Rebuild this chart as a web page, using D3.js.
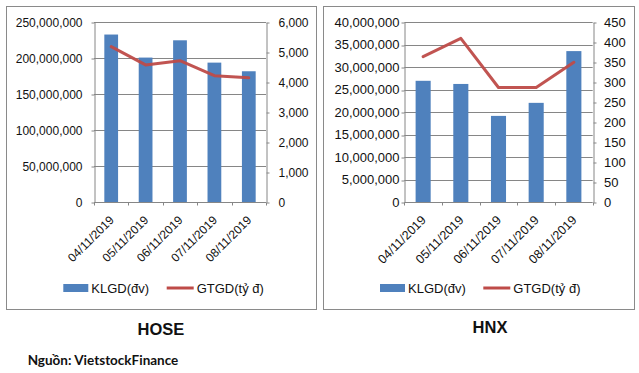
<!DOCTYPE html>
<html>
<head>
<meta charset="utf-8">
<script src="https://cdn.jsdelivr.net/npm/d3@7"></script>
<style>
  html, body { margin: 0; padding: 0; background: #fff; }
  svg { display: block; }
</style>
</head>
<body>
<svg id="chart" width="639" height="373"></svg>
<script>
// ---- data ----
const dates = ["04/11/2019", "05/11/2019", "06/11/2019", "07/11/2019", "08/11/2019"];
const hoseVolume = [233000000, 201000000, 225000000, 194000000, 182000000];
const hoseValue = [5190, 4580, 4720, 4220, 4150];
const hnxVolume = [27000000, 26300000, 19200000, 22100000, 33600000];
const hnxValue = [364, 410, 287, 287, 350];
const hoseLeftTicks = [0, 50000000, 100000000, 150000000, 200000000, 250000000];
const hoseRightTicks = [0, 1000, 2000, 3000, 4000, 5000, 6000];
const hnxLeftTicks = [0, 5000000, 10000000, 15000000, 20000000, 25000000, 30000000, 35000000, 40000000];
const hnxRightTicks = [0, 50, 100, 150, 200, 250, 300, 350, 400, 450];
const legendLabels = ["KLGD(đv)", "GTGD(tỷ đ)"];
const titles = ["HOSE", "HNX"];
const sourceText = "Nguồn: VietstockFinance";

const BAR = "#4F81BD", LINE = "#BE4B48", AXIS = "#868686", BORDER = "#8a8a8a";
const FONT = "'Liberation Sans', Arial, sans-serif";

const svg = d3.select("#chart");

function panel(cfg) {
  const g = svg.append("g");
  g.append("rect")
    .attr("x", cfg.box[0] + 0.5).attr("y", cfg.box[1] + 0.5)
    .attr("width", cfg.box[2] - cfg.box[0]).attr("height", cfg.box[3] - cfg.box[1])
    .attr("fill", "#fff").attr("stroke", BORDER).attr("stroke-width", 1);

  const x = d3.scaleBand().domain(dates).range([cfg.x0, cfg.x1])
    .paddingInner(0.6).paddingOuter(0.3);
  const yL = d3.scaleLinear().domain([0, d3.max(cfg.leftTicks)]).range([cfg.yBot, cfg.yTop]);
  const yR = d3.scaleLinear().domain([0, d3.max(cfg.rightTicks)]).range([cfg.yBot, cfg.yTop]);

  // gridlines
  g.append("g").selectAll("line").data(cfg.leftTicks.slice(1)).join("line")
    .attr("x1", cfg.x0).attr("x2", cfg.x1)
    .attr("y1", d => Math.round(yL(d)) + 0.5).attr("y2", d => Math.round(yL(d)) + 0.5)
    .attr("stroke", AXIS).attr("stroke-width", 1);

  // bars
  g.append("g").selectAll("rect").data(cfg.volume).join("rect")
    .attr("x", (d, i) => x(dates[i]))
    .attr("width", x.bandwidth())
    .attr("y", d => yL(d))
    .attr("height", d => yL(0) - yL(d))
    .attr("fill", BAR);

  // line
  const line = d3.line().x((d, i) => x(dates[i]) + x.bandwidth() / 2).y(d => yR(d));
  g.append("path").datum(cfg.value)
    .attr("d", line).attr("fill", "none")
    .attr("stroke", LINE).attr("stroke-width", 3)
    .attr("stroke-linejoin", "round").attr("stroke-linecap", "round")
    .attr("stroke-opacity", 0.95);

  const fmt = d3.format(",");
  // left axis
  const axL = g.append("g").attr("transform", `translate(${Math.round(cfg.x0) + 0.5},0)`)
    .call(d3.axisLeft(yL).tickValues(cfg.leftTicks).tickFormat(fmt).tickSizeInner(3).tickSizeOuter(0).tickPadding(cfg.padL));
  // right axis
  const axR = g.append("g").attr("transform", `translate(${Math.round(cfg.x1) + 0.5},0)`)
    .call(d3.axisRight(yR).tickValues(cfg.rightTicks).tickFormat(fmt).tickSizeInner(3).tickSizeOuter(0).tickPadding(cfg.padR));
  [axL, axR].forEach(a => {
    a.select(".domain").attr("stroke", AXIS);
    a.selectAll(".tick line").attr("stroke", AXIS);
    a.selectAll(".tick text").attr("font-family", FONT).attr("font-size", cfg.fs).attr("fill", "#111");
  });
  axL.selectAll(".tick line").attr("transform", d => `translate(0,${Math.round(yL(d)) + 0.5 - yL(d)})`);
  axR.selectAll(".tick line").attr("transform", d => `translate(0,${Math.round(yR(d)) + 0.5 - yR(d)})`);

  // bottom axis
  const yb = Math.round(cfg.yBot) + 0.5;
  g.append("line").attr("x1", cfg.x0).attr("x2", cfg.x1).attr("y1", yb).attr("y2", yb)
    .attr("stroke", AXIS);
  const bounds = d3.range(dates.length + 1).map(i => cfg.x0 + i * x.step() - x.step() * 0 );
  g.append("g").selectAll("line").data(bounds).join("line")
    .attr("x1", d => Math.round(d) + 0.5).attr("x2", d => Math.round(d) + 0.5)
    .attr("y1", yb).attr("y2", yb + 3).attr("stroke", AXIS);

  g.append("g").selectAll("text").data(dates).join("text")
    .attr("transform", d => `translate(${x(d) + x.bandwidth() / 2 + 3.5},${cfg.yBot + 18.5}) rotate(-45)`)
    .attr("text-anchor", "end")
    .attr("font-family", FONT).attr("font-size", cfg.dfs).attr("fill", "#111")
    .text(d => d);

  // legend
  const ly = 288;
  g.append("rect").attr("x", cfg.leg[0]).attr("y", ly - 4).attr("width", 25).attr("height", 8).attr("fill", BAR);
  g.append("text").attr("x", cfg.leg[0] + 28).attr("y", ly + 4.5)
    .attr("font-family", FONT).attr("font-size", 13).attr("fill", "#111").text(legendLabels[0]);
  g.append("line").attr("x1", cfg.leg[1]).attr("x2", cfg.leg[1] + 27).attr("y1", ly).attr("y2", ly)
    .attr("stroke", LINE).attr("stroke-width", 3);
  g.append("text").attr("x", cfg.leg[1] + 30).attr("y", ly + 4.5)
    .attr("font-family", FONT).attr("font-size", 13).attr("fill", "#111").text(legendLabels[1]);

  // title
  svg.append("text").attr("x", cfg.title[0]).attr("y", cfg.title[1])
    .attr("text-anchor", "middle").attr("font-family", FONT).attr("font-weight", "bold")
    .attr("font-size", 16.5).attr("fill", "#111").text(cfg.titleText);
}

panel({
  box: [6, 6, 316, 309], x0: 94, x1: 266, yTop: 22.3, yBot: 202.3,
  volume: hoseVolume, value: hoseValue, leftTicks: hoseLeftTicks, rightTicks: hoseRightTicks,
  padL: 9, padR: 9, fs: 12, dfs: 12, leg: [63.3, 166.7], title: [161, 335], titleText: titles[0]
});
panel({
  box: [323, 6, 634, 309], x0: 404.3, x1: 592.7, yTop: 22.3, yBot: 202.3,
  volume: hnxVolume, value: hnxValue, leftTicks: hnxLeftTicks, rightTicks: hnxRightTicks,
  padL: 2, padR: 7.6, fs: 13, dfs: 12.5, leg: [380, 483.3], title: [490, 332.7], titleText: titles[1]
});

svg.append("text").attr("x", 27.7).attr("y", 365)
  .attr("font-family", "Lato, 'Open Sans', sans-serif").attr("font-weight", "bold")
  .attr("font-size", 13.5).attr("fill", "#111").text(sourceText);
</script>
</body>
</html>
